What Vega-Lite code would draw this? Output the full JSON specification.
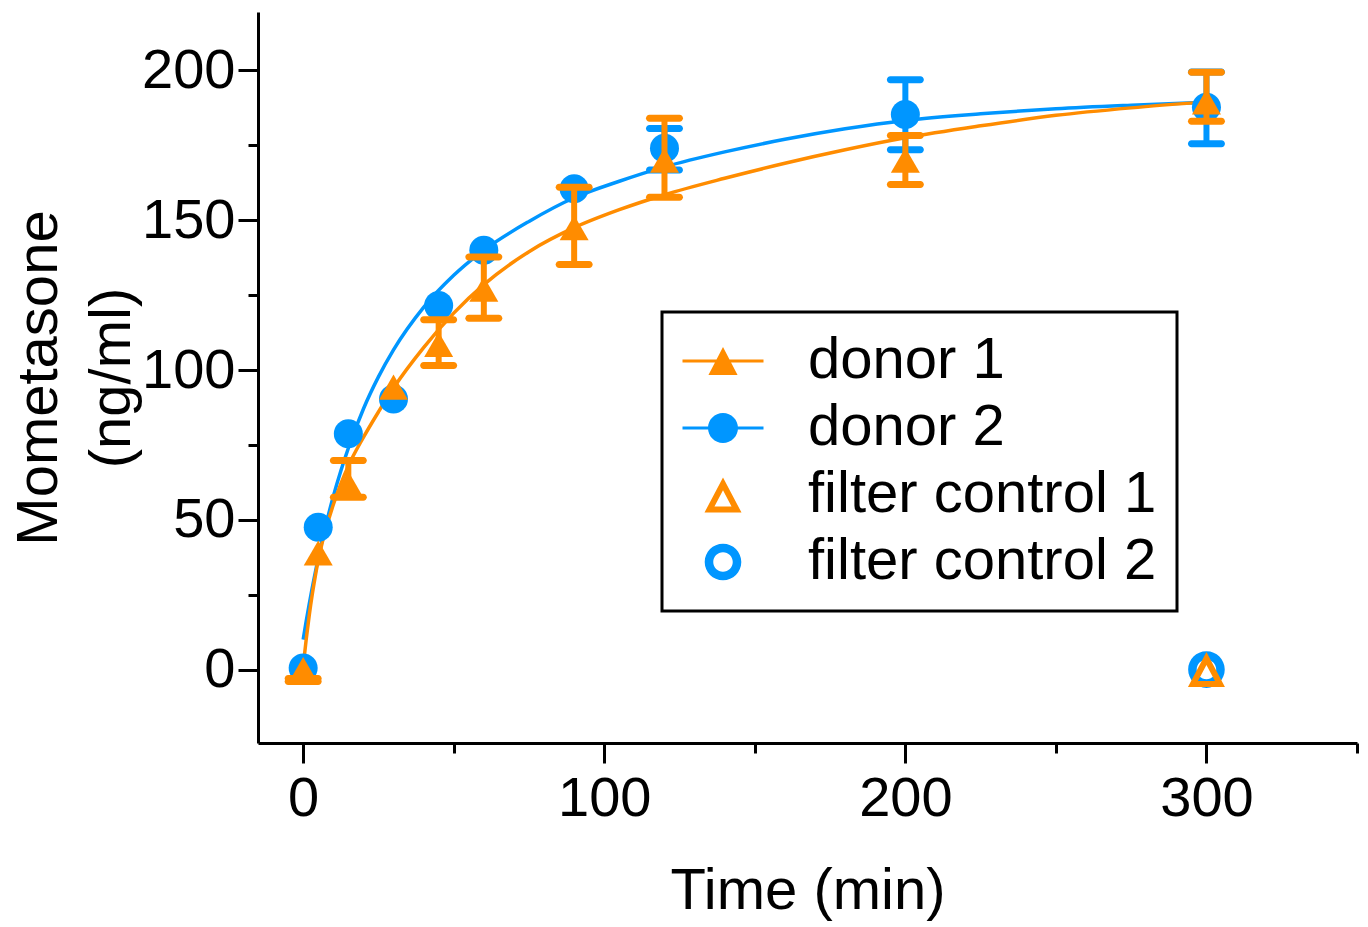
{
  "$schema": "https://vega.github.io/schema/vega-lite/v6.json",
  "width": 1099,
  "height": 731,
  "autosize": {"type": "none"},
  "padding": {"left": 258, "top": 12, "right": 11, "bottom": 184},
  "background": "white",
  "config": {
    "font": "Liberation Sans",
    "view": {"stroke": null},
    "axis": {
      "domainColor": "black", "domainWidth": 3, "tickColor": "black", "tickWidth": 3,
      "labelFont": "Liberation Sans", "labelFontSize": 56, "labelColor": "black",
      "titleFont": "Liberation Sans", "titleFontSize": 58, "titleFontWeight": "normal", "titleColor": "black",
      "grid": false, "labelFlush": false, "labelOverlap": false
    },
    "legend": {"strokeWidth": 3}
  },
  "datasets": {
    "points": [
      {"series": "donor 2", "t": 0, "y": 0.5},
      {"series": "donor 2", "t": 5, "y": 47.5},
      {"series": "donor 2", "t": 15, "y": 78.7},
      {"series": "donor 2", "t": 30, "y": 90.3},
      {"series": "donor 2", "t": 45, "y": 121.5},
      {"series": "donor 2", "t": 60, "y": 140},
      {"series": "donor 2", "t": 90, "y": 160.5},
      {"series": "donor 2", "t": 120, "y": 174, "lo": 166.8, "hi": 180.6},
      {"series": "donor 2", "t": 200, "y": 185.3, "lo": 173.5, "hi": 196.9},
      {"series": "donor 2", "t": 300, "y": 187.7, "lo": 175.5, "hi": 199.5},
      {"series": "donor 1", "t": 0, "y": 0, "lo": -4, "hi": -3},
      {"series": "donor 1", "t": 5, "y": 38.9},
      {"series": "donor 1", "t": 15, "y": 62, "lo": 57.5, "hi": 69.8},
      {"series": "donor 1", "t": 30, "y": 94.3},
      {"series": "donor 1", "t": 45, "y": 108.5, "lo": 101.5, "hi": 116.8},
      {"series": "donor 1", "t": 60, "y": 127, "lo": 117.3, "hi": 137.7},
      {"series": "donor 1", "t": 90, "y": 147.5, "lo": 135.2, "hi": 161},
      {"series": "donor 1", "t": 120, "y": 170, "lo": 157.7, "hi": 184},
      {"series": "donor 1", "t": 200, "y": 170, "lo": 161.9, "hi": 178.3},
      {"series": "donor 1", "t": 300, "y": 189.5, "lo": 183, "hi": 199.4},
      {"series": "filter control 2", "t": 300, "y": 0},
      {"series": "filter control 1", "t": 300, "y": 0}
    ],
    "curves": [
      {"series": "donor 2", "t": 0, "y": 10},
      {"series": "donor 2", "t": 1, "y": 16.1},
      {"series": "donor 2", "t": 2, "y": 21.8},
      {"series": "donor 2", "t": 3, "y": 27.2},
      {"series": "donor 2", "t": 4, "y": 32.3},
      {"series": "donor 2", "t": 5, "y": 37.2},
      {"series": "donor 2", "t": 6, "y": 41.7},
      {"series": "donor 2", "t": 8, "y": 50.1},
      {"series": "donor 2", "t": 10, "y": 57.8},
      {"series": "donor 2", "t": 12.5, "y": 66.3},
      {"series": "donor 2", "t": 15, "y": 73.9},
      {"series": "donor 2", "t": 20, "y": 87.0},
      {"series": "donor 2", "t": 25, "y": 97.7},
      {"series": "donor 2", "t": 30, "y": 106.7},
      {"series": "donor 2", "t": 40, "y": 120.9},
      {"series": "donor 2", "t": 50, "y": 131.6},
      {"series": "donor 2", "t": 60, "y": 140.0},
      {"series": "donor 2", "t": 75, "y": 149.6},
      {"series": "donor 2", "t": 90, "y": 157.5},
      {"series": "donor 2", "t": 105, "y": 163.0},
      {"series": "donor 2", "t": 120, "y": 167.8},
      {"series": "donor 2", "t": 140, "y": 172.8},
      {"series": "donor 2", "t": 160, "y": 177.0},
      {"series": "donor 2", "t": 180, "y": 180.5},
      {"series": "donor 2", "t": 200, "y": 183.3},
      {"series": "donor 2", "t": 225, "y": 185.5},
      {"series": "donor 2", "t": 250, "y": 187.2},
      {"series": "donor 2", "t": 275, "y": 188.4},
      {"series": "donor 2", "t": 300, "y": 189.4},
      {"series": "donor 1", "t": 0, "y": 1},
      {"series": "donor 1", "t": 1, "y": 10},
      {"series": "donor 1", "t": 2, "y": 18},
      {"series": "donor 1", "t": 3, "y": 25},
      {"series": "donor 1", "t": 4, "y": 31},
      {"series": "donor 1", "t": 5, "y": 36.5},
      {"series": "donor 1", "t": 6, "y": 41},
      {"series": "donor 1", "t": 8, "y": 48.5},
      {"series": "donor 1", "t": 10, "y": 55},
      {"series": "donor 1", "t": 12.5, "y": 62},
      {"series": "donor 1", "t": 15, "y": 68},
      {"series": "donor 1", "t": 20, "y": 77.5},
      {"series": "donor 1", "t": 25, "y": 86},
      {"series": "donor 1", "t": 30, "y": 94},
      {"series": "donor 1", "t": 40, "y": 107.5},
      {"series": "donor 1", "t": 50, "y": 119},
      {"series": "donor 1", "t": 60, "y": 128.5},
      {"series": "donor 1", "t": 75, "y": 139.5},
      {"series": "donor 1", "t": 90, "y": 147.5},
      {"series": "donor 1", "t": 105, "y": 153.5},
      {"series": "donor 1", "t": 120, "y": 158.5},
      {"series": "donor 1", "t": 140, "y": 164},
      {"series": "donor 1", "t": 160, "y": 169},
      {"series": "donor 1", "t": 180, "y": 173.5},
      {"series": "donor 1", "t": 200, "y": 177.5},
      {"series": "donor 1", "t": 225, "y": 181.5},
      {"series": "donor 1", "t": 250, "y": 185},
      {"series": "donor 1", "t": 275, "y": 187.5},
      {"series": "donor 1", "t": 300, "y": 189.5}
    ]
  },
  "encoding": {
    "x": {
      "field": "t", "type": "quantitative",
      "scale": {"domain": [-15, 350], "nice": false, "zero": false},
      "axis": {
        "title": "Time (min)",
        "values": [0, 50, 100, 150, 200, 250, 300, 350],
        "labelExpr": "datum.value % 100 === 0 ? datum.label : ''",
        "tickSize": {"condition": {"test": "datum.value % 100 === 0", "value": 20}, "value": 10},
        "labelPadding": 8,
        "titlePadding": 36
      }
    },
    "y": {
      "field": "y", "type": "quantitative",
      "scale": {"domain": [-24.5, 219.5], "nice": false, "zero": false},
      "axis": {
        "title": ["Mometasone", "(ng/ml)"],
        "titleLineHeight": 73,
        "values": [0, 25, 50, 75, 100, 125, 150, 175, 200],
        "labelExpr": "datum.value % 50 === 0 ? datum.label : ''",
        "tickSize": {"condition": {"test": "datum.value % 50 === 0", "value": 20}, "value": 10},
        "labelPadding": 3,
        "titlePadding": 0
      }
    }
  },
  "layer": [
    {
      "data": {"name": "curves"},
      "mark": {"type": "line", "strokeWidth": 3.5, "interpolate": "monotone"},
      "encoding": {
        "detail": {"field": "series", "type": "nominal"},
        "color": {"condition": {"test": "datum.series === 'donor 1'", "value": "#FF8C00"}, "value": "#0096FF"}
      }
    },
    {
      "data": {"name": "points"},
      "transform": [{"filter": "datum.series === 'donor 2' && isValid(datum.lo)"}],
      "mark": {"type": "rule", "strokeWidth": 6, "color": "#0096FF"},
      "encoding": {
        "y": {"field": "lo", "type": "quantitative"},
        "y2": {"field": "hi"}
      }
    },
    {
      "data": {"name": "points"},
      "transform": [{"filter": "datum.series === 'donor 2' && isValid(datum.lo)"}, {"fold": ["lo", "hi"], "as": ["end", "v"]}],
      "mark": {"type": "tick", "orient": "horizontal", "size": 37, "thickness": 7, "cornerRadius": 3.5, "opacity": 1, "color": "#0096FF"},
      "encoding": {
        "y": {"field": "v", "type": "quantitative"}
      }
    },
    {
      "data": {"name": "points"},
      "transform": [{"filter": "datum.series === 'donor 2'"}],
      "mark": {"type": "point", "shape": "circle", "filled": true, "size": 841, "opacity": 1, "color": "#0096FF"},
      "encoding": {}
    },
    {
      "data": {"name": "points"},
      "transform": [{"filter": "datum.series === 'donor 1' && isValid(datum.lo)"}],
      "mark": {"type": "rule", "strokeWidth": 6, "color": "#FF8C00"},
      "encoding": {
        "y": {"field": "lo", "type": "quantitative"},
        "y2": {"field": "hi"}
      }
    },
    {
      "data": {"name": "points"},
      "transform": [{"filter": "datum.series === 'donor 1' && isValid(datum.lo)"}, {"fold": ["lo", "hi"], "as": ["end", "v"]}],
      "mark": {"type": "tick", "orient": "horizontal", "size": 37, "thickness": 7, "cornerRadius": 3.5, "opacity": 1, "color": "#FF8C00"},
      "encoding": {
        "y": {"field": "v", "type": "quantitative"}
      }
    },
    {
      "data": {"name": "points"},
      "transform": [{"filter": "datum.series === 'donor 1'"}],
      "mark": {"type": "point", "shape": "triangle-up", "filled": true, "size": 841, "opacity": 1, "color": "#FF8C00"},
      "encoding": {}
    },
    {
      "data": {"name": "points"},
      "transform": [{"filter": "datum.series === 'filter control 2'"}],
      "mark": {"type": "point", "shape": "M1.22,0C1.22,0.674,0.674,1.22,0,1.22C-0.674,1.22,-1.22,0.674,-1.22,0C-1.22,-0.674,-0.674,-1.22,0,-1.22C0.674,-1.22,1.22,-0.674,1.22,0ZM0.65,0C0.65,-0.359,0.359,-0.65,0,-0.65C-0.359,-0.65,-0.65,-0.359,-0.65,0C-0.65,0.359,-0.359,0.65,0,0.65C0.359,0.65,0.65,0.359,0.65,0Z", "filled": true, "size": 900, "opacity": 1, "color": "#0096FF"},
      "encoding": {}
    },
    {
      "data": {"name": "points"},
      "transform": [{"filter": "datum.series === 'filter control 1'"}],
      "mark": {"type": "point", "shape": "M0,-1.167L1.233,1.167L-1.233,1.167ZM0,-0.31L-0.569,0.767L0.569,0.767Z", "filled": true, "size": 900, "opacity": 1, "color": "#FF8C00"},
      "encoding": {}
    },
    {
      "data": {"name": "points"},
      "transform": [{"filter": "datum.t < -1000"}],
      "mark": {"type": "point", "filled": true, "size": 900, "opacity": 1},
      "encoding": {
        "color": {"field": "series", "type": "nominal",
          "scale": {"domain": ["donor 1", "donor 2", "filter control 1", "filter control 2"], "range": ["#FF8C00", "#0096FF", "#FF8C00", "#0096FF"]},
          "legend": {
            "orient": "none", "legendX": 404, "legendY": 300, "title": null,
            "strokeColor": "black", "fillColor": "white", "padding": 20,
            "labelFont": "Liberation Sans", "labelFontSize": 58, "labelColor": "black", "labelLimit": 1000,
            "labelOffset": 56, "rowPadding": 9, "symbolSize": 900, "symbolOffset": 12,
            "symbolStrokeWidth": 0, "symbolOpacity": 1
          }},
        "shape": {"field": "series", "type": "nominal",
          "scale": {"domain": ["donor 1", "donor 2", "filter control 1", "filter control 2"],
            "range": [
              "M-2.7,-0.1L2.7,-0.1L2.7,0.1L-2.7,0.1ZM0,-0.93L0.97,0.93L-0.97,0.93Z",
              "M-2.7,-0.1L2.7,-0.1L2.7,0.1L-2.7,0.1ZM1,0C1,0.552,0.552,1,0,1C-0.552,1,-1,0.552,-1,0C-1,-0.552,-0.552,-1,0,-1C0.552,-1,1,-0.552,1,0Z",
              "M0,-1.167L1.233,1.167L-1.233,1.167ZM0,-0.31L-0.569,0.767L0.569,0.767Z",
              "M1.22,0C1.22,0.674,0.674,1.22,0,1.22C-0.674,1.22,-1.22,0.674,-1.22,0C-1.22,-0.674,-0.674,-1.22,0,-1.22C0.674,-1.22,1.22,-0.674,1.22,0ZM0.65,0C0.65,-0.359,0.359,-0.65,0,-0.65C-0.359,-0.65,-0.65,-0.359,-0.65,0C-0.65,0.359,-0.359,0.65,0,0.65C0.359,0.65,0.65,0.359,0.65,0Z"
            ]}}
      }
    }
  ]
}
